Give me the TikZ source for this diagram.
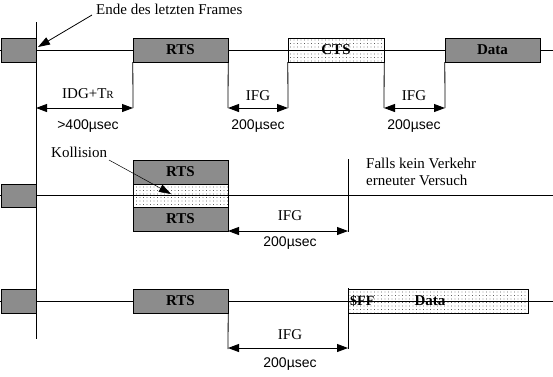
\documentclass[tikz,border=0pt]{standalone}
\usepackage{fontspec}
\setmainfont{Liberation Serif}
\newfontfamily\arialfont{Liberation Sans}
\usetikzlibrary{arrows.meta,patterns.meta}
\begin{document}
\begin{tikzpicture}[x=1pt,y=-1pt,
  darkbox/.style={draw, fill=black!45, inner sep=0pt, minimum height=24pt,
    font=\fontsize{15}{15}\selectfont\bfseries},
  dotbox/.style={draw, pattern={Dots[distance=3.5pt, radius=0.45pt]}, pattern color=black, inner sep=0pt, minimum height=24pt,
    font=\fontsize{15}{15}\selectfont\bfseries},
  lbl/.style={font=\fontsize{15}{15}\selectfont, inner sep=0pt},
  sans/.style={font=\arialfont\fontsize{14}{14}\selectfont, inner sep=0pt},
  dim/.style={line width=0.9pt, {Triangle[length=11pt,width=8pt]}-{Triangle[length=11pt,width=8pt]}},
  tl/.style={line width=0.8pt},
  pointer/.style={line width=0.5pt, -{Triangle[length=12pt,width=8pt]}}
]
\useasboundingbox (0,0) rectangle (553,376);

% ---------- row 1 ----------
\coordinate (l1a) at (0,50);
\coordinate (l1b) at (553,50);
\draw[tl] (l1a) -- (l1b);
\node[darkbox, minimum width=35pt] (pre1) at (18.5,50) {};
\node[darkbox, minimum width=95pt] (rts1) at (180.5,50) {RTS};
\node[dotbox, minimum width=96pt] (cts1) at (336,50) {CTS};
\node[darkbox, minimum width=95pt] (data1) at (492.5,50) {Data};

% main vertical
\coordinate (vtop) at (36,22);
\coordinate (vbot) at (36,339);
\draw[tl] (vtop) -- (vbot);

\coordinate (a1) at (36,108);
\coordinate (a2) at (133,108);
\coordinate (a3) at (228,108);
\coordinate (a4) at (288,108);
\coordinate (a5) at (384,108);
\coordinate (a6) at (445,108);
\draw[tl] (rts1.south west) -- (a2);
\draw[tl] (rts1.south east) -- (a3);
\draw[tl] (cts1.south west) -- (a4);
\draw[tl] (cts1.south east) -- (a5);
\draw[tl] (data1.south west) -- (a6);
\draw[dim] (a1) -- (a2);
\draw[dim] (a3) -- (a4);
\draw[dim] (a5) -- (a6);

\node[lbl] (idg) at (88,94) {IDG+T{\fontsize{11}{11}\selectfont R}};
\node[sans] (t400) at (88,126) {>400µsec};
\node[lbl] (ifg1) at (258,96) {IFG};
\node[sans] (t200a) at (258,126) {200µsec};
\node[lbl] (ifg2) at (414,96) {IFG};
\node[sans] (t200b) at (414,126) {200µsec};

\node[lbl, anchor=west] (ende) at (96,9) {Ende des letzten Frames};
\coordinate (endeA) at (92,15);
\coordinate (endeB) at (38,47);
\draw[pointer, line width=0.8pt] (endeA) -- (endeB);

% ---------- row 2 ----------
\coordinate (l2a) at (0,195.5);
\coordinate (l2b) at (553,195.5);
\draw[tl] (l2a) -- (l2b);
\node[darkbox, minimum width=35pt, minimum height=23pt] (pre2) at (18.5,195.5) {};
\node[darkbox, minimum width=95pt] (rts2a) at (180.5,172) {RTS};
\node[dotbox, minimum width=95pt, minimum height=23pt] (mid2) at (180.5,195.5) {};
\node[darkbox, minimum width=95pt] (rts2b) at (180.5,219) {RTS};

\coordinate (v2top) at (348,159);
\coordinate (v2bot) at (348,232);
\draw[tl] (v2top) -- (v2bot);
\coordinate (b1) at (228,231);
\coordinate (b2) at (348,231);
\draw[dim] (b1) -- (b2);
\node[lbl] (ifg3) at (290,216) {IFG};
\node[sans] (t200c) at (290,243) {200µsec};

\node[lbl, anchor=west] (falls1) at (366,163) {Falls kein Verkehr};
\node[lbl, anchor=west] (falls2) at (366,180) {erneuter Versuch};

\node[lbl, anchor=west] (koll) at (51,152) {Kollision};
\coordinate (kollA) at (109,160);
\coordinate (kollB) at (171,194);
\draw[pointer] (kollA) -- (kollB);

% ---------- row 3 ----------
\coordinate (l3a) at (0,301);
\coordinate (l3b) at (553,301);
\draw[tl] (l3a) -- (l3b);
\node[darkbox, minimum width=35pt] (pre3) at (18.5,301) {};
\node[darkbox, minimum width=95pt] (rts3) at (180.5,301) {RTS};
\node[dotbox, minimum width=180pt] (data3) at (438,301) {};
\node[font=\fontsize{14}{14}\selectfont\bfseries, inner sep=0pt, anchor=west] (ff) at (350,301) {\$FF};
\node[font=\fontsize{15}{15}\selectfont\bfseries, inner sep=0pt] (d3) at (430,301) {Data};

\coordinate (c1) at (228,348);
\coordinate (c2) at (348,348);
\coordinate (v3top) at (348,288);
\coordinate (c1top) at (228,349);
\coordinate (c2bot) at (348,349);
\draw[tl] (rts3.south east) -- (c1top);
\draw[tl] (v3top) -- (c2bot);
\draw[dim] (c1) -- (c2);
\node[lbl] (ifg4) at (290,335) {IFG};
\node[sans] (t200d) at (290,364) {200µsec};
\end{tikzpicture}
\end{document}
